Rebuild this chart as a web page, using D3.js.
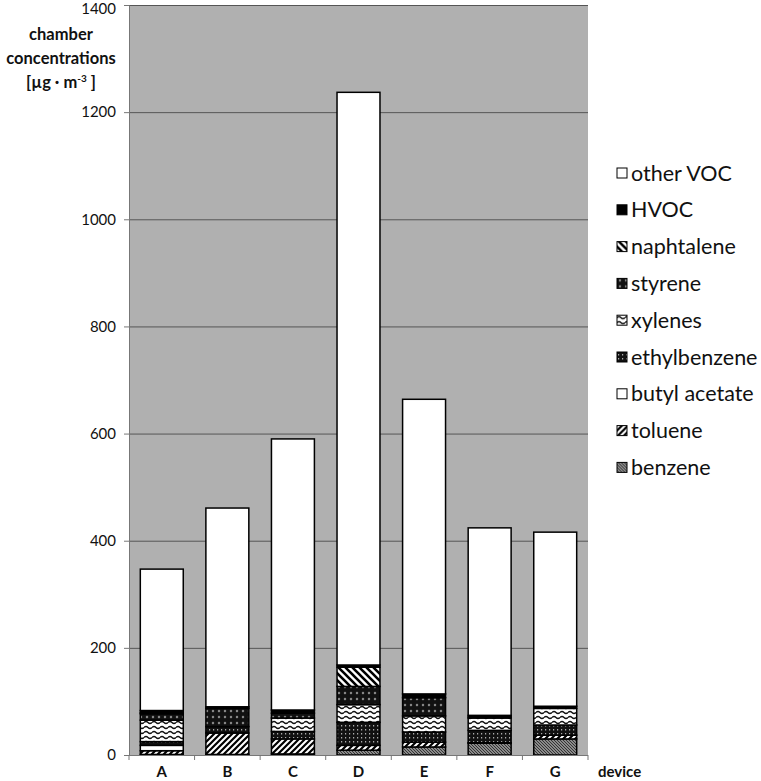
<!DOCTYPE html>
<html>
<head>
<meta charset="utf-8">
<script src="https://cdn.jsdelivr.net/npm/d3@7"></script>
<style>
  body { margin: 0; background: #fff; }
  svg { display: block; }
  text { font-family: Lato, "Open Sans", sans-serif; }
</style>
</head>
<body>
<svg id="chart" width="761" height="781"></svg>
<script>
const devices = ["A", "B", "C", "D", "E", "F", "G"];
const seriesNames = ["benzene", "toluene", "butyl acetate", "ethylbenzene", "xylenes", "styrene", "naphtalene", "HVOC", "other VOC"];
const benzene      = [1, 1, 2, 9, 15, 22, 30];
const toluene      = [7, 40, 28, 9, 9, 1, 7];
const butylAcetate = [10, 0, 0, 0, 0, 0, 0];
const ethylbenzene = [7, 12, 14, 43, 19, 23, 19];
const xylenes      = [40, 0, 25, 33, 30, 23, 31];
const styrene      = [12, 34, 9, 34, 34, 2, 0];
const naphtalene   = [2, 0, 0, 36, 0, 0, 0];
const HVOC         = [4, 3, 6, 4, 7, 3, 4];
const otherVOC     = [264, 371, 506, 1069, 550, 350, 325];
const yTicks = [0, 200, 400, 600, 800, 1000, 1200, 1400];

const seriesValues = [benzene, toluene, butylAcetate, ethylbenzene, xylenes, styrene, naphtalene, HVOC, otherVOC];
const rows = devices.map((d, i) => {
  const r = { device: d };
  seriesNames.forEach((s, k) => r[s] = seriesValues[k][i]);
  return r;
});

const svg = d3.select("#chart");
const defs = svg.append("defs");

function pat(id, w, h, bg, draw) {
  const p = defs.append("pattern").attr("id", id).attr("patternUnits", "userSpaceOnUse")
    .attr("width", w).attr("height", h);
  p.append("rect").attr("width", w).attr("height", h).attr("fill", bg);
  draw(p);
}
pat("p-benzene", 3, 3, "#8a8a8a", p => {
  p.append("path").attr("d", "M0,0 L3,3 M-1,2 L1,4 M2,-1 L4,1").attr("stroke", "#2a2a2a").attr("stroke-width", 0.9);
});
pat("p-toluene", 6, 6, "#fff", p => {
  p.append("path").attr("d", "M0,6 L6,0 M-3,3 L3,-3 M3,9 L9,3").attr("stroke", "#000").attr("stroke-width", 2.2);
});
pat("p-ethyl", 4, 4, "#111", p => {
  p.append("rect").attr("x", 1).attr("y", 1).attr("width", 1.2).attr("height", 1.5).attr("fill", "#aaa");
});
pat("p-xylenes", 8, 5, "#fff", p => {
  p.append("path").attr("d", "M0,2.5 Q2,0.5 4,2.5 T8,2.5").attr("fill", "none").attr("stroke", "#111").attr("stroke-width", 1.4);
});
pat("p-styrene", 6, 6, "#111", p => {
  p.append("path").attr("d", "M3,1.6 L4.4,3 L3,4.4 L1.6,3 Z").attr("fill", "#9a9a9a");
});
pat("p-naph", 7, 7, "#fff", p => {
  p.append("path").attr("d", "M0,0 L7,7 M-3.5,3.5 L3.5,10.5 M3.5,-3.5 L10.5,3.5").attr("stroke", "#000").attr("stroke-width", 2.6);
});
const fills = {
  "benzene": "url(#p-benzene)",
  "toluene": "url(#p-toluene)",
  "butyl acetate": "#fff",
  "ethylbenzene": "url(#p-ethyl)",
  "xylenes": "url(#p-xylenes)",
  "styrene": "url(#p-styrene)",
  "naphtalene": "url(#p-naph)",
  "HVOC": "#000",
  "other VOC": "#fff"
};

const x = d3.scaleBand().domain(devices).range([129, 588]).paddingInner(0.345).paddingOuter(0.1725);
const y = d3.scaleLinear().domain([0, 1400]).range([755, 5]);

svg.append("rect").attr("x", x.range()[0]).attr("y", y(1400))
  .attr("width", x.range()[1] - x.range()[0]).attr("height", y(0) - y(1400))
  .attr("fill", "#b0b0b0");

svg.append("g").selectAll("line").data(yTicks.filter(t => t > 0)).join("line")
  .attr("x1", x.range()[0]).attr("x2", x.range()[1])
  .attr("y1", d => y(d) + 0.5).attr("y2", d => y(d) + 0.5)
  .attr("stroke", "#555").attr("stroke-width", 1);

const stack = d3.stack().keys(seriesNames)(rows);
const g = svg.append("g");
stack.forEach(layer => {
  g.append("g").selectAll("rect").data(layer).join("rect")
    .attr("x", d => x(d.data.device))
    .attr("width", x.bandwidth())
    .attr("y", d => y(d[1]))
    .attr("height", d => Math.max(0, y(d[0]) - y(d[1])))
    .attr("fill", fills[layer.key])
    .attr("stroke", "#000").attr("stroke-width", 1.5);
});

const yAxis = svg.append("g").attr("transform", `translate(${x.range()[0]},0)`)
  .call(d3.axisLeft(y).tickValues(yTicks).tickFormat(d3.format("d")).tickSize(5).tickPadding(8));
yAxis.select(".domain").attr("stroke", "#777");
yAxis.selectAll(".tick line").attr("stroke", "#777");
yAxis.selectAll("text").attr("font-size", 15).attr("fill", "#111").style("font-family", "Lato, sans-serif")
  .attr("dy", d => d === 1400 ? "0.55em" : "0.32em");

const xAxis = svg.append("g").attr("transform", `translate(0,${y(0)})`);
xAxis.append("line").attr("x1", x.range()[0]).attr("x2", x.range()[1])
  .attr("y1", 0.5).attr("y2", 0.5).attr("stroke", "#777");
const bounds = devices.map(d => x(d) - x.step() * x.paddingInner() / 2);
bounds.push(x.range()[1]);
bounds[0] = x.range()[0];
xAxis.selectAll("line.tk").data(bounds).join("line").attr("class", "tk")
  .attr("x1", d => d).attr("x2", d => d).attr("y1", 0).attr("y2", 5).attr("stroke", "#777");
xAxis.selectAll("text").data(devices).join("text")
  .attr("x", d => x(d) + x.bandwidth() / 2).attr("y", 22)
  .attr("text-anchor", "middle").attr("font-size", 15).attr("font-weight", "bold").attr("fill", "#111")
  .text(d => d);
xAxis.append("text").attr("x", 598).attr("y", 22).attr("font-size", 15).attr("font-weight", "bold")
  .attr("fill", "#111").text("device");

const t = svg.append("text").attr("font-size", 16.5).attr("font-weight", "bold").attr("fill", "#111")
  .attr("text-anchor", "middle");
t.append("tspan").attr("x", 61).attr("y", 40).text("chamber");
t.append("tspan").attr("x", 61).attr("y", 64).text("concentrations");
const t3 = t.append("tspan").attr("x", 61).attr("y", 88);
t3.append("tspan").text("[µg · m");
t3.append("tspan").attr("font-size", 10).attr("dy", -6).text("-3");
t3.append("tspan").attr("dy", 6).text(" ]");

const legendOrder = seriesNames.slice().reverse();
const lg = svg.append("g").selectAll("g").data(legendOrder).join("g")
  .attr("transform", (d, i) => `translate(617,${173 + i * 36.8})`);
lg.append("rect").attr("x", 0).attr("y", -5).attr("width", 10).attr("height", 10)
  .attr("fill", d => fills[d]).attr("stroke", "#000").attr("stroke-width", 1);
lg.append("text").attr("x", 14).attr("y", 7.5).attr("font-size", 21.5).attr("fill", "#111").text(d => d);
</script>
</body>
</html>
